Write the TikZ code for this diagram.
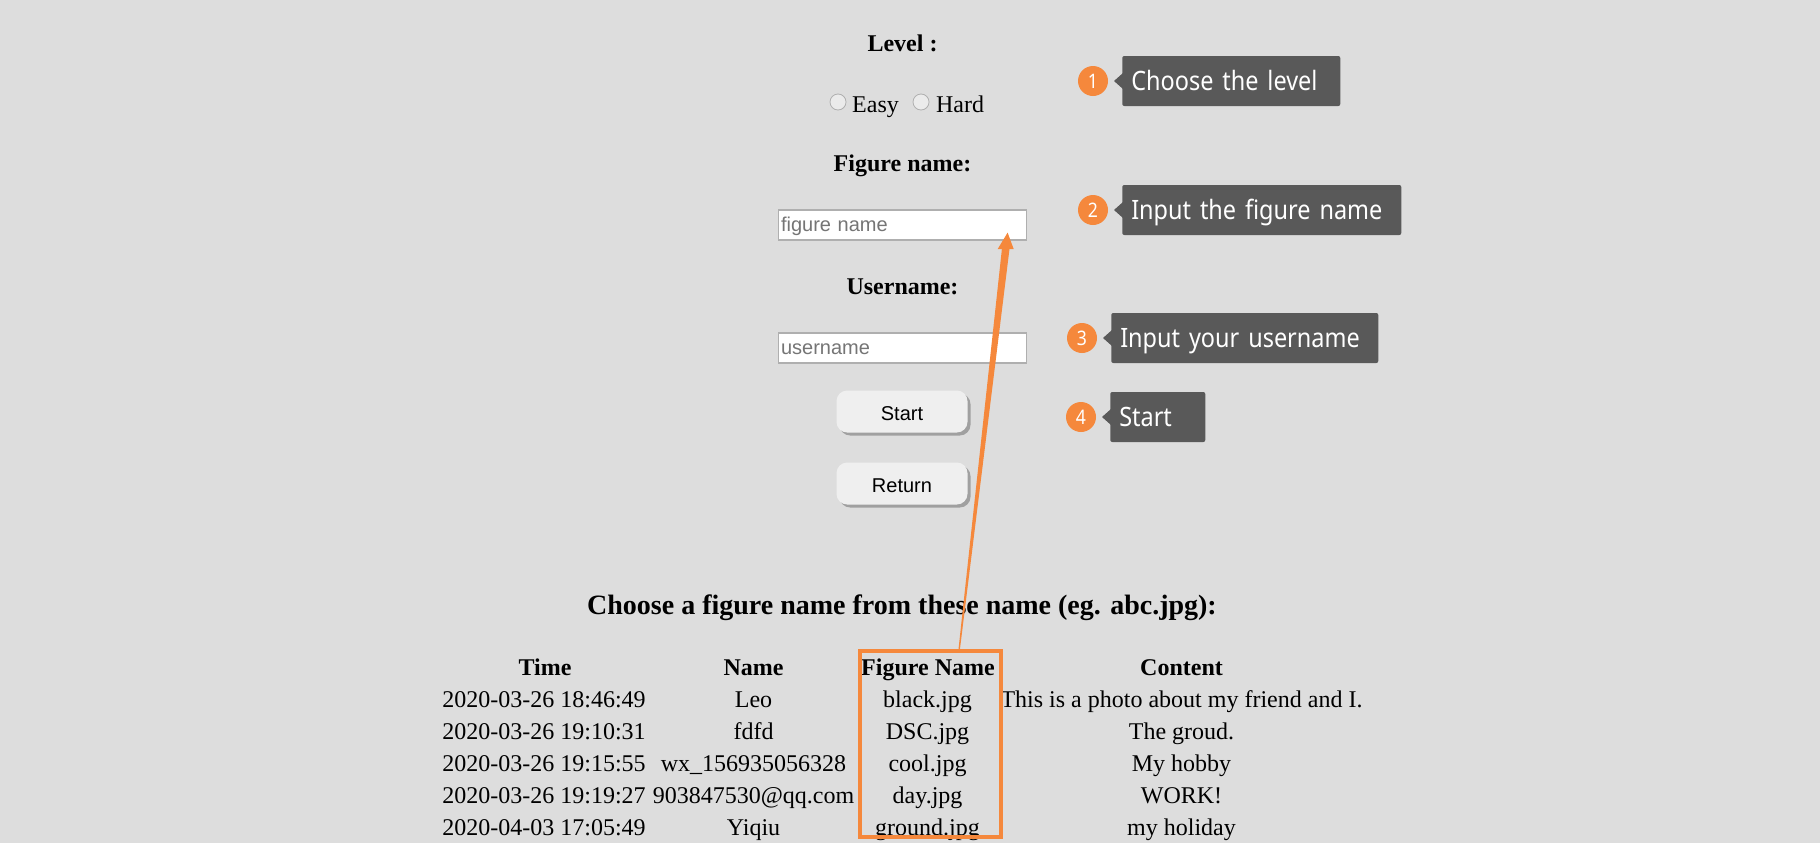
\documentclass[tikz,border=0pt]{standalone}
\usepackage{fontspec}
\setmainfont{Liberation Serif}
\newfontfamily\arialfont{Liberation Sans}
\newfontfamily\tipfont[FakeStretch=0.88]{Noto Sans}
\usetikzlibrary{calc, shadows}
\def\px{0.75pt}
\definecolor{pagebg}{HTML}{DDDDDD}
\definecolor{tiporange}{HTML}{F5883C}
\definecolor{tipgrey}{HTML}{595959}
\definecolor{btnface}{HTML}{EFEFEF}
\definecolor{btnedge}{HTML}{A0A0A0}
\definecolor{inputedge}{HTML}{AFAFAF}
\definecolor{holdertext}{HTML}{757575}
\tikzset{
  formhead/.style={anchor=base, inner sep=0pt, font=\fontsize{18}{20}\selectfont\bfseries},
  cell/.style={anchor=base, inner sep=0pt, font=\fontsize{18}{20}\selectfont},
  cellhead/.style={anchor=base, inner sep=0pt, font=\fontsize{18}{20}\selectfont\bfseries},
  radiobtn/.style={draw=inputedge, fill=btnface!80!pagebg, circle, inner sep=0pt, line width=0.6pt, minimum size=16*\px},
  inputbox/.style={draw=inputedge, fill=white, line width=1.2*\px, minimum height=30*\px, inner xsep=2.5*\px, inner ysep=0pt,
    text width=243*\px, text height=11pt, text depth=1pt, align=left, text=holdertext, font=\arialfont\fontsize{15}{18}\selectfont},
  btnbox/.style={fill=btnface, rounded corners=8pt, minimum width=131*\px, minimum height=42*\px, inner sep=0pt,
    text height=13pt, text depth=0.2pt, font=\arialfont\fontsize{15}{18}\selectfont,
    general shadow={shadow xshift=3*\px, shadow yshift=-3*\px, fill=btnedge}},
  tipbox/.style={fill=tipgrey, rounded corners=1.5pt, anchor=west, minimum height=50*\px, inner xsep=9*\px, inner ysep=0pt,
    text height=18pt, text depth=4.5pt, align=left, text=white, font=\tipfont\fontsize{20}{22}\selectfont},
  tipnum/.style={fill=tiporange, circle, minimum size=30*\px, inner sep=0pt, text=white, font=\tipfont\fontsize{15}{16}\selectfont},
  tipnotch/.style={fill=tipgrey},
  figframe/.style={draw=tiporange, line width=4*\px, minimum width=141*\px, minimum height=186*\px, inner sep=0pt, outer sep=0pt},
  pointer/.style={fill=tiporange},
}
\begin{document}
\begin{tikzpicture}[x=\px, y=-\px]
  \useasboundingbox (0,0) rectangle (1820,843);
  \fill[pagebg] (0,0) rectangle (1820,843);
  % the form
  \node[formhead] (level)    at (902.5,51)  {Level :};
  \node[radiobtn] (easyrb)   at (838,102)   {};
  \node[cell]     (easy)     at (875.5,112) {Easy};
  \node[radiobtn] (hardrb)   at (921,102)   {};
  \node[cell]     (hard)     at (960,112)   {Hard};
  \node[formhead] (figname)  at (902.5,171) {Figure name:};
  \node[inputbox] (figinput) at (902.5,225) {figure name};
  \node[formhead] (username) at (902.5,294) {Username:};
  \node[inputbox] (userinput) at (902.5,348) {username};
  \node[btnbox]   (start)    at (902,411.5) {Start};
  \node[btnbox]   (return)   at (902,483.5) {Return};
  % numbered hints beside the form
  \node[tipbox, text width=200*\px] (tip1) at (1122,81)  {Choose the level};
  \node[tipbox, text width=261*\px] (tip2) at (1122,210) {Input the figure name};
  \node[tipbox, text width=249*\px] (tip3) at (1111,338) {Input your username};
  \node[tipbox, text width=77*\px]  (tip4) at (1110,417) {Start};
  \node[tipnum] (num1) at (1093,81)  {1};
  \node[tipnum] (num2) at (1093,210) {2};
  \node[tipnum] (num3) at (1082,338) {3};
  \node[tipnum] (num4) at (1081,417) {4};
  \foreach \t in {tip1,tip2,tip3,tip4}
    \fill[tipnotch] ($(\t.west)+(1,-8)$) -- ($(\t.west)+(-8,0)$) -- ($(\t.west)+(1,8)$) -- cycle;
  % the table of names
  \node[anchor=base, inner sep=0pt, font=\fontsize{21}{24}\selectfont\bfseries] (choose) at (902,614) {Choose a figure name from these name (eg. abc.jpg):};
  \node[cellhead] (timehead) at (545,675)  {Time};
  \node[cellhead] (namehead) at (753.5,675)  {Name};
  \node[cellhead] (filehead) at (928,675)  {Figure Name};
  \node[cellhead] (texthead) at (1181.5,675) {Content};
  \node[cell] (time1) at (544,707) {2020-03-26 18:46:49};
  \node[cell] (name1) at (753.5,707) {Leo};
  \node[cell] (file1) at (927.5,707) {black.jpg};
  \node[cell] (text1) at (1181.5,707) {This is a photo about my friend and I.};
  \node[cell] (time2) at (544,739) {2020-03-26 19:10:31};
  \node[cell] (name2) at (753.5,739) {fdfd};
  \node[cell] (file2) at (927.5,739) {DSC.jpg};
  \node[cell] (text2) at (1181.5,739) {The groud.};
  \node[cell] (time3) at (544,771) {2020-03-26 19:15:55};
  \node[cell] (name3) at (753.5,771) {wx\_156935056328};
  \node[cell] (file3) at (927.5,771) {cool.jpg};
  \node[cell] (text3) at (1181.5,771) {My hobby};
  \node[cell] (time4) at (544,803) {2020-03-26 19:19:27};
  \node[cell] (name4) at (753.5,803) {903847530@qq.com};
  \node[cell] (file4) at (927.5,803) {day.jpg};
  \node[cell] (text4) at (1181.5,803) {WORK!};
  \node[cell] (time5) at (544,835) {2020-04-03 17:05:49};
  \node[cell] (name5) at (753.5,835) {Yiqiu};
  \node[cell] (file5) at (927.5,835) {ground.jpg};
  \node[cell] (text5) at (1181.5,835) {my holiday};
  % frame round the figure names, and the pointer up to the input
  \node[figframe] (frame) at (930.5,744) {};
  \coordinate (ptail) at ($(frame.north)+(28.5,0)$);
  \coordinate (ptip)  at ($(figinput.south east)+(-19.5,-8)$);
  \coordinate (pneck) at ($(ptip)!12.4pt!(ptail)$);
  \fill[pointer] ($(ptail)+(-0.7,0)$) -- ($(pneck)+(-3.8,0)$) -- ($(pneck)+(-8,0)$) -- (ptip)
    -- ($(pneck)+(8,0)$) -- ($(pneck)+(3.8,0)$) -- ($(ptail)+(0.7,0)$) -- cycle;
\end{tikzpicture}
\end{document}
